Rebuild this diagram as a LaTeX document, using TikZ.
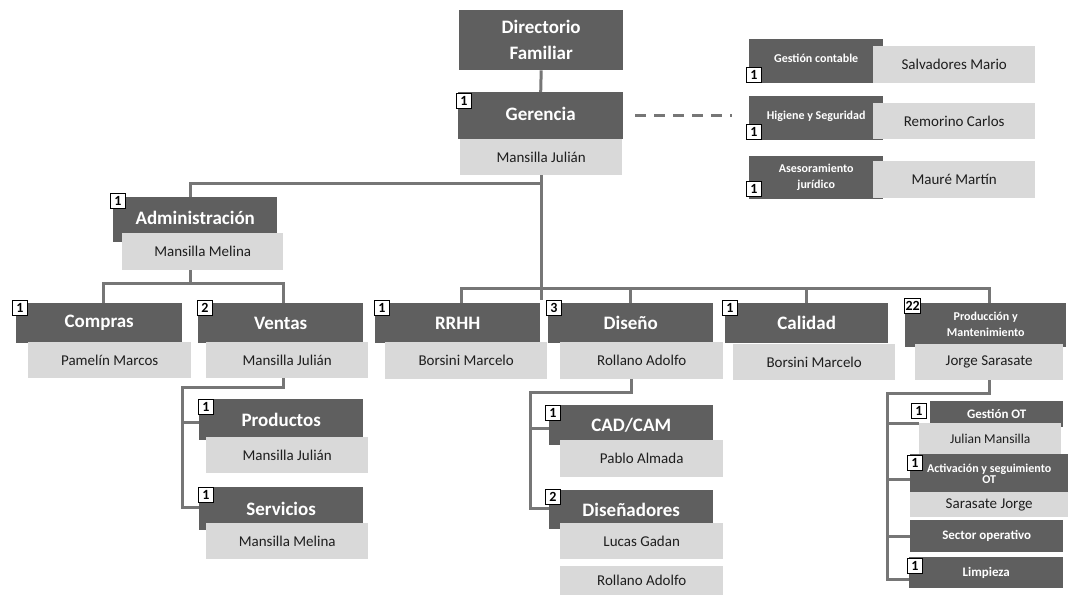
\documentclass[tikz,border=0pt]{standalone}
\usepackage{fontspec}
\setmainfont{Carlito}
\definecolor{dkg}{HTML}{5F5F5F}
\definecolor{ltg}{HTML}{D9D9D9}
\definecolor{lng}{HTML}{767676}
\definecolor{txt}{HTML}{1E1E1E}
\newcommand\hdf{\fontsize{19}{26}\selectfont\bfseries}
\newcommand\nmf{\fontsize{15}{18}\selectfont}
\newcommand\smf{\fontsize{12}{16}\selectfont\bfseries}
\newcommand\mdf{\fontsize{13}{16}\selectfont\bfseries}
\newcommand\bdf{\fontsize{14}{14}\selectfont\bfseries}
\newcommand\bx[7]{\pgfmathsetmacro\bxw{#5-#3}\pgfmathsetmacro\bxh{#6-#4}%
  \node[#1, minimum width=\bxw pt, minimum height=\bxh pt] (#2) at (#3,#4) {#7};}
\tikzset{
  dark/.style={fill=dkg, text=white, font=\hdf, inner sep=0pt, anchor=north west, align=center},
  light/.style={fill=ltg, text=txt, font=\nmf, inner sep=0pt, anchor=north west, align=center},
  badge/.style={draw=black, line width=1pt, fill=white, minimum height=15pt, minimum width=15pt, inner sep=1pt, font=\bdf, anchor=north west},
  conn/.style={draw=lng, line width=3pt},
  dashline/.style={draw=lng, line width=3pt, dash pattern=on 11pt off 8pt},
}
\begin{document}
\begin{tikzpicture}[x=1pt,y=-1pt]
\useasboundingbox (0,0) rectangle (1068,596);
% top
\bx{dark}{dir}{459}{10}{623}{70}{Directorio\\Familiar}
\bx{dark}{ger}{458}{92}{623}{139}{\raisebox{4pt}{Gerencia}}
\bx{light}{gern}{460}{139}{622}{175}{Mansilla Julián}
% staff
\bx{dark,font=\smf}{gc}{749}{39}{883}{83}{\raisebox{6pt}{Gestión contable}}
\bx{light}{gcn}{873}{46}{1035}{83}{Salvadores Mario}
\bx{dark,font=\smf}{hs}{749}{96}{883}{140}{\raisebox{6pt}{Higiene y Seguridad}}
\bx{light}{hsn}{873}{103}{1035}{139}{Remorino Carlos}
\bx{dark,font=\smf}{aj}{749}{156}{883}{199}{Asesoramiento\\jurídico}
\bx{light}{ajn}{873}{161}{1035}{198}{Mauré Martín}
% administracion
\bx{dark}{adm}{113}{197}{277}{242}{\raisebox{4pt}{Administración}}
\bx{light}{admn}{122}{233}{283}{270}{Mansilla Melina}
\bx{dark}{comp}{16}{303}{182}{343}{Compras}
\bx{light}{compn}{28}{342}{191}{378}{Pamelín Marcos}
\bx{dark}{vent}{198}{303}{363}{343}{Ventas}
\bx{light}{ventn}{206}{342}{368}{378}{Mansilla Julián}
\bx{dark}{prod}{199}{399}{363}{440}{Productos}
\bx{light}{prodn}{206}{437}{368}{473}{Mansilla Julián}
\bx{dark}{serv}{199}{487}{363}{530}{Servicios}
\bx{light}{servn}{206}{523}{368}{559}{Mansilla Melina}
% rrhh, diseno, calidad, produccion
\bx{dark}{rrhh}{375}{303}{540}{343}{RRHH}
\bx{light}{rrhhn}{385}{342}{547}{379}{Borsini Marcelo}
\bx{dark}{dis}{548}{303}{713}{343}{Diseño}
\bx{light}{disn}{560}{342}{723}{379}{Rollano Adolfo}
\bx{dark}{cad}{549}{405}{713}{445}{CAD/CAM}
\bx{light}{cadn}{560}{440}{723}{477}{Pablo Almada}
\bx{dark}{dsn}{549}{490}{713}{529}{Diseñadores}
\bx{light}{dsnn}{560}{523}{723}{559}{Lucas Gadan}
\bx{light}{dsnn2}{560}{566}{723}{595}{Rollano Adolfo}
\bx{dark}{cal}{725}{303}{888}{343}{Calidad}
\bx{light}{caln}{733}{344}{895}{380}{Borsini Marcelo}
\bx{dark,font=\smf}{pm}{905}{303}{1066}{347}{\raisebox{3pt}{\begin{tabular}{@{}c@{}}Producción y\\Mantenimiento\end{tabular}}}
\bx{light}{pmn}{915}{344}{1063}{380}{Jorge Sarasate}
\bx{dark,font=\mdf}{got}{930}{401}{1063}{427}{Gestión OT}
\bx{light,font=\fontsize{13.5}{16}\selectfont}{gotn}{919}{423}{1061}{454}{Julian Mansilla}
\bx{dark,font=\fontsize{12}{11.5}\selectfont\bfseries}{act}{910}{454}{1068}{493}{Activación y seguimiento\\OT}
\bx{light}{actn}{910}{492}{1068}{517}{Sarasate Jorge}
\bx{dark,font=\mdf}{sec}{910}{520}{1063}{552}{Sector operativo}
\bx{dark,font=\mdf}{lim}{909}{557}{1063}{588}{Limpieza}
% connectors
\draw[conn] (dir.south) -- (ger.north);
\coordinate (jA) at (541,184);
\coordinate (jAL) at (190,184);
\coordinate (stub) at (541,300);
\draw[conn] (gern.south -| jA) -- (stub);
\draw[conn] (jA) -- (jAL) -- (jAL |- adm.north);
\coordinate (busL) at (461,288);
\coordinate (busR) at (989,288);
\draw[conn] (busL |- rrhh.north) -- (busL) -- (busR) -- (busR |- pm.north);
\draw[conn] (dis.north) -- (dis.north |- busL);
\draw[conn] (cal.north) -- (cal.north |- busL);
\draw[dashline] ([xshift=12pt]ger.east) -- ([xshift=-17pt]ger.east -| hs.west);
% admin subtree
\coordinate (aB) at (190,283);
\coordinate (cL) at (103,283);
\coordinate (cR) at (283,283);
\draw[conn] (admn.south -| aB) -- (aB);
\draw[conn] (cL |- comp.north) -- (cL) -- (cR) -- (cR |- vent.north);
\coordinate (v1) at (283,387);
\coordinate (v2) at (182,387);
\coordinate (v3) at (182,507);
\coordinate (v4) at (182,422);
\draw[conn] (ventn.south -| v1) -- (v1) -- (v2) -- (v3) -- (v3 -| serv.west);
\draw[conn] (v4) -- (v4 -| prod.west);
% diseno subtree
\coordinate (d1) at (631,392);
\coordinate (d2) at (530,392);
\coordinate (d3) at (530,508);
\coordinate (d4) at (530,428);
\draw[conn] (disn.south -| d1) -- (d1) -- (d2) -- (d3) -- (d3 -| dsn.west);
\draw[conn] (d4) -- (d4 -| cad.west);
% produccion subtree
\coordinate (p1) at (989,393);
\coordinate (p2) at (887,393);
\coordinate (p3) at (887,579);
\coordinate (p4) at (887,423);
\coordinate (p5) at (887,479);
\coordinate (p6) at (887,536);
\draw[conn] (pmn.south -| p1) -- (p1) -- (p2) -- (p3) -- (p3 -| lim.west);
\draw[conn] (p4) -- (p4 -| gotn.west);
\draw[conn] (p5) -- (p5 -| act.west);
\draw[conn] (p6) -- (p6 -| sec.west);
% badges
\node[badge] (b1) at (456,93) {1};
\node[badge] (b2) at (746,67) {1};
\node[badge] (b3) at (746,124) {1};
\node[badge] (b4) at (746,181) {1};
\node[badge] (b5) at (110,193) {1};
\node[badge] (b6) at (12,300) {1};
\node[badge] (b7) at (197,300) {2};
\node[badge] (b8) at (374,300) {1};
\node[badge] (b9) at (546,300) {3};
\node[badge] (b10) at (722,300) {1};
\node[badge] (b11) at (904,298) {22};
\node[badge] (b12) at (198,399) {1};
\node[badge] (b13) at (198,487) {1};
\node[badge] (b14) at (545,405) {1};
\node[badge] (b15) at (545,489) {2};
\node[badge] (b16) at (911,403) {1};
\node[badge] (b17) at (907,455) {1};
\node[badge] (b18) at (907,558) {1};
\end{tikzpicture}
\end{document}
